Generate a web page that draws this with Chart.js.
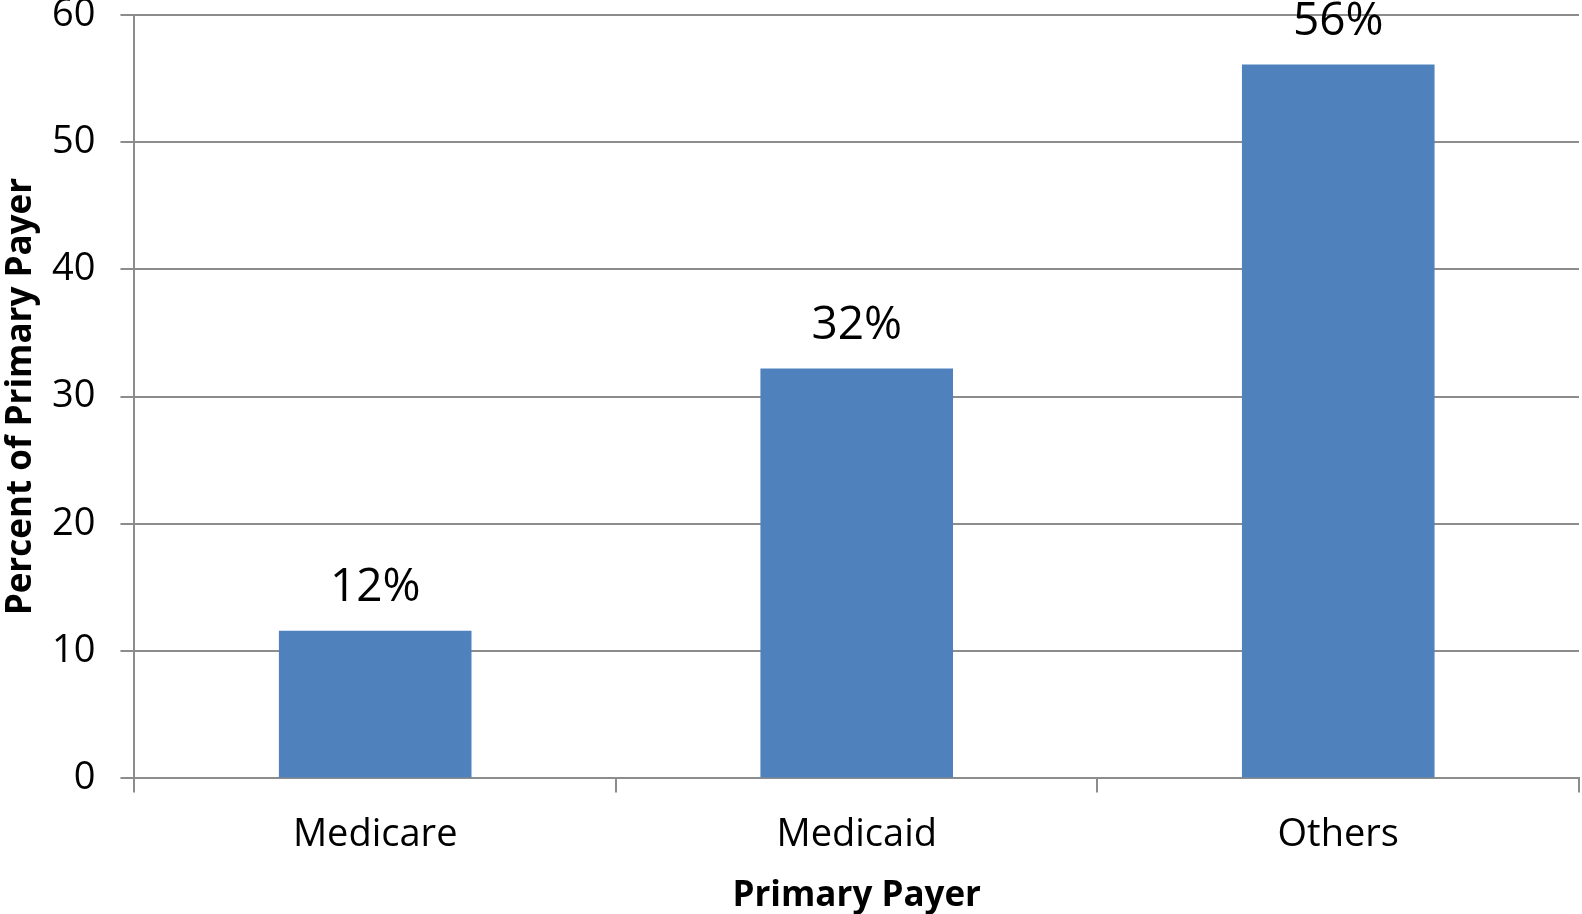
<!DOCTYPE html>
<html>
<head>
<meta charset="utf-8">
<script src="https://cdn.jsdelivr.net/npm/chart.js@4.4.0/dist/chart.umd.min.js"></script>
<style>
	html, body { margin: 0; padding: 0; background: #fff; overflow: hidden; }
	#page { position: relative; width: 1582px; height: 914px; overflow: hidden; }
	/* the y tick padding also pads the top of the chart, so pull the canvas up */
	#wrap { position: absolute; left: 0; top: -33px; width: 1582px; height: 947px; }
</style>
</head>
<body>
<div id="page"><div id="wrap"><canvas id="chart"></canvas></div></div>
<script>
// values
const payers = ["Medicare", "Medicaid", "Others"];
const percents = [11.6, 32.2, 56.1];
const percentLabels = ["12%", "32%", "56%"];
const yTicks = [0, 10, 20, 30, 40, 50, 60];

const gridColor = "#8c8c8c";
const fontFamily = "'Open Sans', sans-serif";

// draw the percent text above each bar
const barLabels = {
	id: "barLabels",
	afterDatasetsDraw(chart) {
		let ctx = chart.ctx;
		let meta = chart.getDatasetMeta(0);
		ctx.save();
		ctx.fillStyle = "#000";
		ctx.font = "46px " + fontFamily;
		ctx.textAlign = "center";
		ctx.textBaseline = "middle";
		meta.data.forEach((bar, i) => {
			ctx.fillText(percentLabels[i], bar.x, bar.y - 43);
		});
		ctx.restore();
	}
};

new Chart(document.getElementById("chart"), {
	type: "bar",
	data: {
		labels: payers,
		datasets: [{
			data: percents,
			backgroundColor: "#4f81bd",
			borderWidth: 0,
			barPercentage: 0.4,
			categoryPercentage: 1.0
		}]
	},
	plugins: [barLabels],
	options: {
		responsive: true,
		maintainAspectRatio: false,
		animation: false,
		layout: { padding: { top: 0, right: 3, bottom: 0, left: 0 } },
		plugins: {
			legend: { display: false },
			tooltip: { enabled: false }
		},
		scales: {
			x: {
				offset: true,
				grid: {
					offset: true,
					drawOnChartArea: false,
					color: gridColor,
					lineWidth: 2,
					tickLength: 14
				},
				border: { color: gridColor, width: 2 },
				ticks: {
					color: "#000",
					font: { family: fontFamily, size: 38 },
					padding: 20
				},
				title: {
					display: true,
					text: "Primary Payer",
					color: "#000",
					font: { family: fontFamily, size: 35, weight: "bold" },
					// tick padding is counted twice in the axis size, take it back here
					padding: { top: -3, bottom: -3 }
				}
			},
			y: {
				min: 0,
				max: 60,
				afterBuildTicks(axis) {
					axis.ticks = yTicks.map(v => ({ value: v }));
				},
				grid: {
					color: gridColor,
					lineWidth: 2,
					tickLength: 14
				},
				border: { color: gridColor, width: 2 },
				ticks: {
					color: "#000",
					font: { family: fontFamily, size: 38 },
					padding: 25
				},
				title: {
					display: true,
					text: "Percent of Primary Payer",
					color: "#000",
					font: { family: fontFamily, size: 35, weight: "bold" },
					padding: { top: 0, bottom: -15 }
				}
			}
		}
	}
});
</script>
</body>
</html>
